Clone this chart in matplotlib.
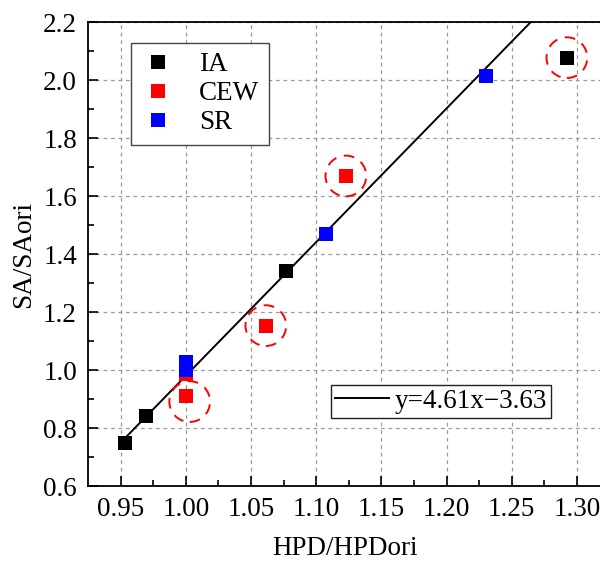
import matplotlib
matplotlib.use("Agg")
import matplotlib.pyplot as plt
from matplotlib.lines import Line2D
import numpy as np

plt.rcParams['font.family'] = ['Liberation Serif', 'DejaVu Serif']
plt.rcParams['mathtext.fontset'] = 'stix'

# Measured ratios for each method
ia_x = [0.9536, 0.9692, 1.0767, 1.2923]
ia_y = [0.749, 0.842, 1.341, 2.077]
cew_x = [1.000, 1.000, 1.0614, 1.1228]
cew_y = [0.987, 0.911, 1.153, 1.669]
sr_x = [1.000, 1.000, 1.1075, 1.2303]
sr_y = [1.028, 1.001, 1.469, 2.014]

# Points flagged as outliers (dashed circles)
flag_x = [1.003, 1.0614, 1.1228, 1.2923]
flag_y = [0.891, 1.153, 1.669, 2.077]

# Linear fit y = a*x + b
fit_a = 4.61
fit_b = -3.63
fit_label = "y=4.61x\u22123.63"

xticks = [0.95, 1.00, 1.05, 1.10, 1.15, 1.20, 1.25, 1.30]
yticks = [0.6, 0.8, 1.0, 1.2, 1.4, 1.6, 1.8, 2.0, 2.2]

FS = 19.5

fig = plt.figure(figsize=(6.0, 5.63), dpi=100)
ax = fig.add_axes([88 / 600, 1 - 486 / 563, 515 / 600, 464 / 563])

ax.grid(True, which='major', color='#999999', linestyle=(0, (3, 3)), linewidth=0.9)
ax.set_axisbelow(True)

fx = np.array([min(ia_x), 1.32])
fit_line, = ax.plot(fx, fit_a * fx + fit_b, color='black', lw=1.4, zorder=3)

ms = 10
h_ia, = ax.plot(ia_x, ia_y, 's', color='black', ms=ms, mew=0, zorder=4, label='IA')
h_cew, = ax.plot(cew_x, cew_y, 's', color='#ff0000', ms=ms, mew=0, zorder=5, label='CEW')
h_sr, = ax.plot(sr_x, sr_y, 's', color='#0000ff', ms=ms, mew=0, zorder=6, label='SR')

ax.scatter(flag_x, flag_y, s=860, facecolors='none', edgecolors='#ff0000',
           linewidths=1.4, linestyles=(0, (5.5, 4)), zorder=7)

ax.set_xlim(0.925, 1.32)
ax.set_ylim(0.6, 2.2)
ax.set_xticks(xticks)
ax.set_xticklabels([f"{v:.2f}" for v in xticks])
ax.set_yticks(yticks)
ax.set_yticklabels([f"{v:.1f}" for v in yticks])
ax.set_xticks(np.arange(0.975, 1.30, 0.05), minor=True)
ax.set_yticks(np.arange(0.7, 2.2, 0.2), minor=True)

ax.tick_params(which='both', direction='in', top=False, right=False, labelsize=FS, width=1.2)
ax.tick_params(which='major', length=7)
ax.tick_params(which='minor', length=4)
ax.tick_params(axis='y', which='major', pad=8)
ax.tick_params(axis='x', which='major', pad=8)
for sp in ax.spines.values():
    sp.set_linewidth(1.3)

ax.set_xlabel("HPD/HPDori", fontsize=FS, labelpad=10)
ax.set_ylabel("SA/SAori", fontsize=FS, labelpad=5)

leg1 = ax.legend(handles=[h_ia, h_cew, h_sr], loc='upper left',
                 bbox_to_anchor=(0.084, 0.955), fontsize=FS, frameon=True,
                 fancybox=False, edgecolor='#444444', framealpha=1,
                 handlelength=1.3, handletextpad=0.85, labelspacing=0.15,
                 borderpad=0.35, borderaxespad=0, markerscale=1.0)
leg1.get_frame().set_linewidth(1.0)
ax.add_artist(leg1)

leg2 = ax.legend(handles=[Line2D([], [], color='black', lw=1.4)], labels=[fit_label],
                 loc='lower right', bbox_to_anchor=(0.899, 0.147), fontsize=FS,
                 frameon=True, fancybox=False, edgecolor='#222222', framealpha=1,
                 handlelength=2.0, handletextpad=0.2, borderpad=0.15,
                 borderaxespad=0)
leg2.get_frame().set_linewidth(1.0)

fig.savefig("out.png", dpi=100)
